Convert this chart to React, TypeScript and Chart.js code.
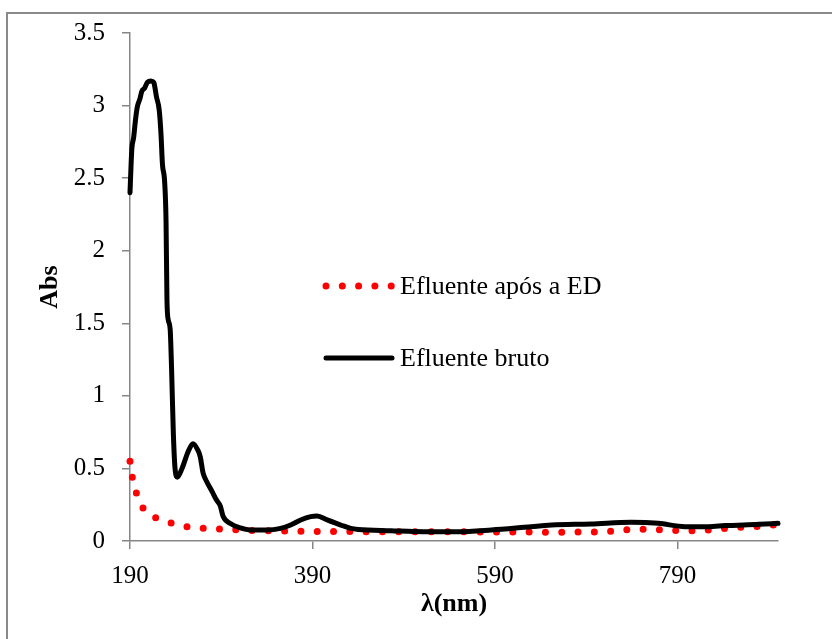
import React, { useEffect, useRef } from "react";
import { Chart, registerables } from "chart.js";

Chart.register(...registerables);

// Efluente bruto (raw effluent)
const wavelengthBruto = [
  190, 192, 194, 196, 198, 201, 203, 206, 209, 213, 216, 219, 222, 224, 225.5, 228,
  229.5, 230.5, 232, 234, 235.5, 237.5, 239.5, 242, 247, 254, 259, 264, 267, 270,
  274, 280, 285, 289, 292, 300, 311, 322, 340, 355, 366, 377, 388, 395, 406, 421,
  432, 440, 476, 512, 549, 586, 622, 652, 695, 739, 769, 798, 824, 842, 879, 900,
];
const absBruto = [
  2.4, 2.7, 2.78, 2.9, 2.99, 3.05, 3.1, 3.12, 3.16, 3.17, 3.16, 3.06, 2.97, 2.8, 2.6, 2.47,
  2.2, 1.66, 1.52, 1.46, 1.2, 0.74, 0.49, 0.44, 0.5, 0.62, 0.67, 0.63, 0.58, 0.47,
  0.41, 0.34, 0.28, 0.24, 0.17, 0.12, 0.09, 0.076, 0.076, 0.087, 0.11, 0.145, 0.168, 0.172, 0.145, 0.11,
  0.087, 0.08, 0.071, 0.064, 0.064, 0.076, 0.094, 0.11, 0.117, 0.129, 0.122, 0.099, 0.099, 0.106, 0.115, 0.122,
];

// Efluente após a ED (effluent after electrodialysis)
const wavelengthED = [
  190, 192.5, 197, 204, 218, 234, 244, 261, 280, 300, 320, 350, 400, 450, 500, 550,
  600, 650, 700, 725, 743, 761, 780, 797, 814, 831, 849, 868, 886, 900,
];
const absED = [
  0.55, 0.44, 0.33, 0.23, 0.16, 0.126, 0.108, 0.092, 0.085, 0.08, 0.073, 0.07, 0.066, 0.064, 0.063, 0.063,
  0.062, 0.061, 0.063, 0.07, 0.082, 0.08, 0.076, 0.071, 0.071, 0.08, 0.09, 0.097, 0.104, 0.113,
];

const xTicks = [190, 390, 590, 790];
const yTicks = [0, 0.5, 1, 1.5, 2, 2.5, 3, 3.5];
const seriesNames = ["Efluente após a ED", "Efluente bruto"];
const xTitle = "λ(nm)";
const yTitle = "Abs";

const FONT = "'Liberation Serif', 'Times New Roman', serif";
const AXIS_GRAY = "#868686";

const legendPlugin = {
  id: "inlineLegend",
  afterDatasetsDraw(chart: any) {
    const { ctx, chartArea } = chart;
    const x0 = chartArea.left + 196;
    const x1 = chartArea.left + 262;
    const textX = chartArea.left + 270;
    const rows = [
      { y: chartArea.top + 253, ds: chart.data.datasets[0] },
      { y: chartArea.top + 325, ds: chart.data.datasets[1] },
    ];
    ctx.save();
    rows.forEach((r) => {
      ctx.beginPath();
      ctx.strokeStyle = r.ds.borderColor;
      ctx.lineWidth = r.ds.borderWidth;
      ctx.lineCap = "round";
      ctx.setLineDash(r.ds.borderDash || []);
      ctx.moveTo(x0, r.y);
      ctx.lineTo(x1, r.y);
      ctx.stroke();
      ctx.setLineDash([]);
      ctx.fillStyle = "#000";
      ctx.font = `26px ${FONT}`;
      ctx.textBaseline = "middle";
      ctx.textAlign = "left";
      ctx.fillText(r.ds.label, textX, r.y + 1);
    });
    ctx.restore();
  },
};

export default function App() {
  const ref = useRef<HTMLCanvasElement>(null);

  useEffect(() => {
    const canvas = ref.current!;
    const chart = new Chart(canvas, {
      type: "line",
      data: {
        datasets: [
          {
            label: seriesNames[0],
            data: wavelengthED.map((x, i) => ({ x, y: absED[i] })),
            borderColor: "#FF0000",
            borderWidth: 7,
            borderDash: [0, 16.3],
            borderCapStyle: "round",
            pointRadius: 0,
            cubicInterpolationMode: "monotone",
            fill: false,
            clip: false,
            order: 1,
          },
          {
            label: seriesNames[1],
            data: wavelengthBruto.map((x, i) => ({ x, y: absBruto[i] })),
            borderColor: "#000000",
            borderWidth: 5,
            borderCapStyle: "round",
            borderJoinStyle: "round",
            pointRadius: 0,
            cubicInterpolationMode: "monotone",
            fill: false,
            clip: false,
            order: 0,
          },
        ] as any,
      },
      options: {
        responsive: false,
        animation: false,
        layout: { padding: { left: 0, right: 54, top: 33, bottom: 0 } },
        plugins: { legend: { display: false }, tooltip: { enabled: false } },
        scales: {
          x: {
            type: "linear",
            min: 190,
            max: 900,
            afterBuildTicks: (s: any) => {
              s.ticks = xTicks.map((v) => ({ value: v }));
            },
            afterFit: (s: any) => {
              s.height = 98;
            },
            grid: { drawOnChartArea: false, drawTicks: true, tickLength: 8, color: AXIS_GRAY, lineWidth: 1.5 },
            border: { color: AXIS_GRAY, width: 1.5 },
            ticks: {
              color: "#000",
              font: { family: FONT, size: 25 },
              padding: 12,
              maxRotation: 0,
              autoSkip: false,
              callback: (v: any) => String(v),
            },
            title: {
              display: true,
              text: xTitle,
              color: "#000",
              font: { family: FONT, size: 26, weight: "bold" },
              padding: { top: 0, bottom: 19 },
            },
          },
          y: {
            type: "linear",
            min: 0,
            max: 3.5,
            afterBuildTicks: (s: any) => {
              s.ticks = yTicks.map((v) => ({ value: v }));
            },
            afterFit: (s: any) => {
              s.width = 130;
            },
            grid: { drawOnChartArea: false, drawTicks: true, tickLength: 8, color: AXIS_GRAY, lineWidth: 1.5 },
            border: { color: AXIS_GRAY, width: 1.5 },
            ticks: {
              color: "#000",
              font: { family: FONT, size: 25 },
              padding: 17,
              autoSkip: false,
              callback: (v: any) => String(v),
            },
            title: {
              display: true,
              text: yTitle,
              color: "#000",
              font: { family: FONT, size: 26, weight: "bold" },
              padding: { top: 35, bottom: 0 },
            },
          },
        },
      } as any,
      plugins: [legendPlugin],
    });
    return () => chart.destroy();
  }, []);

  return (
    <div
      style={{
        position: "fixed",
        left: 0,
        top: 0,
        width: 832,
        height: 639,
        overflow: "hidden",
        background: "#fff",
      }}
    >
      <div
        style={{
          position: "absolute",
          left: 6,
          top: 12,
          width: 900,
          height: 700,
          border: "2px solid #8a8a8a",
          boxSizing: "border-box",
        }}
      />
      <canvas ref={ref} width={832} height={639} style={{ position: "absolute", left: 0, top: 0 }} />
    </div>
  );
}
